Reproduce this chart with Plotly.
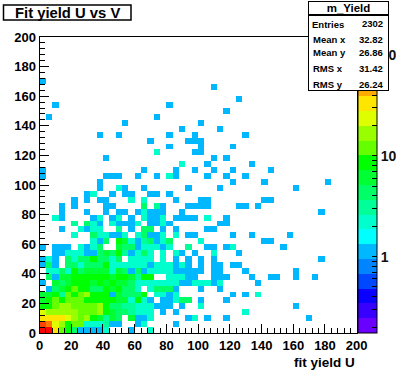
import math
import plotly.graph_objects as go

title_text = "Fit yield U vs V"
x_label = "fit yield U"
stats_name = "m_Yield"
stats_labels = ["Entries", "Mean x", "Mean y", "RMS x", "RMS y"]
stats_values = ["2302", "32.82", "26.86", "31.42", "26.24"]
axis_ticks = [0, 20, 40, 60, 80, 100, 120, 140, 160, 180, 200]
n_bins = 50
bin_width = 4
log_min = -0.758
log_max = 2.18
palette = ["#6a00ff", "#3800ff", "#0a00ff", "#0048ff", "#0084ff", "#00b8ff", "#00ffff", "#00ffcc",
           "#00ff99", "#00ff66", "#00ff33", "#00ff00", "#66ff00", "#99ff00", "#ddff00", "#ffe600",
           "#ffaa00", "#ff7700", "#ff4400", "#ff0000"]

# row index (V bin) -> {U bin: entries}
counts_by_row = {
 0: {0:140,1:140,2:30,3:12,4:8,5:4,6:1,7:1,8:1,9:1,10:2,14:1,17:2},
 1: {0:90,1:60,2:22,3:16,4:8,5:11,6:11,7:2,8:2,9:2,10:3,11:1,12:1,15:1,16:2,21:1},
 2: {0:30,1:30,2:30,3:30,4:22,5:16,6:11,7:16,8:8,9:6,10:3,11:6,12:4,14:6,15:1,16:1,17:2,23:1,24:2,26:1,29:1,42:1},
 3: {0:22,1:16,2:16,3:16,4:16,5:16,6:11,7:11,8:11,9:16,10:8,11:6,12:4,13:4,14:3,15:2,16:2,17:2,19:1,21:1,32:2},
 4: {0:8,1:8,2:11,3:16,4:16,5:11,6:11,7:11,8:11,9:16,10:8,11:4,12:4,13:3,14:3,15:2,16:2,17:2,18:1,19:1,20:1,22:1,25:2,40:1},
 5: {0:6,1:8,2:11,3:8,4:11,5:11,6:11,7:8,8:8,9:8,10:8,11:8,12:6,13:6,14:2,15:8,16:2,17:1,19:1,20:1,21:2,22:4,23:4,25:1,29:1},
 6: {0:6,1:6,2:8,3:3,4:11,5:8,6:11,7:16,8:8,9:8,10:8,11:1,12:6,13:4,14:4,15:4,16:8,18:2,19:2,20:1,21:2,30:1,32:1,34:2},
 7: {1:1,2:4,3:6,4:8,5:11,6:8,7:8,8:4,9:4,10:8,11:6,12:8,13:4,14:4,15:2,17:2,18:4,19:4,20:4,21:1,25:1,28:1},
 8: {0:1,2:6,3:4,4:6,5:8,6:8,7:8,8:6,9:8,10:6,11:8,12:6,13:6,14:4,15:2,16:2,17:2,18:2,19:2,20:2,21:2,22:1,23:1,24:2,25:2,26:2,27:1,28:2,34:1},
 9: {1:4,2:1,3:6,4:6,5:8,6:8,7:8,8:8,9:8,10:8,11:6,12:8,13:8,14:6,15:3,16:8,17:8,20:2,21:2,22:2,23:1,24:1,27:1,28:1,29:1,33:1,36:1,37:1,40:1,43:1},
 10: {1:2,2:2,3:4,4:2,5:8,6:4,7:6,8:6,9:6,10:6,11:2,12:6,13:4,14:1,15:4,16:1,17:2,18:2,19:2,20:2,21:1,22:1,23:1,24:1,25:1,27:1,28:1,32:1,40:1},
 11: {0:1,1:4,2:1,4:4,5:4,6:2,7:4,8:4,9:4,10:8,11:2,12:2,13:2,14:2,15:2,16:2,17:1,18:2,19:2,20:2,21:1,22:2,23:1,25:1,27:1,28:1,30:1,31:1},
 12: {0:1,1:2,2:1,4:4,5:2,6:4,7:4,8:8,9:4,10:4,11:2,12:4,14:2,15:2,16:2,17:2,19:2,21:1,23:1,25:1,27:1,44:1},
 13: {2:1,3:1,4:2,5:2,6:2,7:1,8:1,9:4,10:6,11:4,12:8,13:3,14:1,15:2,16:4,17:2,19:2,21:2,22:1,24:1,27:2,31:1},
 14: {0:1,2:1,3:1,4:1,6:2,7:1,8:2,9:4,12:6,13:4,14:4,15:1,16:2,17:2,18:2,19:1,20:2,23:3,26:1,27:1,29:1,30:2,38:1},
 15: {8:2,9:1,10:4,12:8,13:6,14:2,15:1,16:3,17:4,18:1,19:2,20:4,25:2,35:1,36:1},
 16: {5:2,8:4,9:2,10:2,11:1,12:1,13:2,15:2,16:4,17:1,18:1,19:2,21:2,23:1,24:1,30:1,33:1,39:1},
 17: {3:1,6:2,7:1,8:2,9:2,12:3,14:1,16:4,17:4,19:1,21:1,26:1,27:1},
 18: {5:3,7:4,8:2,9:1,11:2,12:1,13:1,14:1,15:2,17:1,18:1,19:2,20:1,28:1,29:1},
 19: {2:2,3:1,8:1,9:2,11:1,12:2,14:1,16:2,17:1,18:1,19:2,21:1,22:1,23:1,24:1,26:2,29:1},
 20: {3:1,7:1,10:1,12:1,13:1,15:1,16:2,17:1,18:1,19:1,22:1,44:1},
 21: {3:1,5:1,10:1,11:1,16:4,18:3,19:1,23:1,24:1,25:1,26:1,31:1,32:1,34:1},
 22: {5:1,7:1,9:1,10:1,14:2,16:2,21:1,25:1,26:1,35:1,36:1},
 23: {7:1,8:2,11:1,13:1,14:1,17:1,18:1,20:1},
 24: {9:1,12:2,13:1,16:1,23:1,28:1,40:1},
 25: {9:1,30:1,35:1,45:1},
 26: {0:1,10:1,11:1,12:1,15:1,18:1,20:2,21:1,26:1,29:1,32:1},
 27: {0:1,16:1,21:1,24:1,27:1,30:1,36:1},
 28: {22:2,26:1,33:1},
 29: {10:1,27:1,29:1},
 30: {18:2,24:1,25:1},
 31: {20:1,25:1,30:1},
 32: {17:1,23:1,24:1,25:1},
 33: {9:1,12:1,20:1,24:1,32:1},
 34: {22:1,28:1},
 35: {13:1,25:1},
 36: {1:1,18:1},
 37: {29:1},
 38: {2:1,20:1},
 39: {31:1},
 41: {27:1},
 42: {0:1},
}

W, H = 396, 372
L, R, T, B = 39.5, 356.7, 37, 333
FONT = "Liberation Sans"

z = [[None] * n_bins for _ in range(n_bins)]
for row, cells in counts_by_row.items():
    for col, c in cells.items():
        z[row][col] = math.log10(c)

n = len(palette)
scale = []
for k, col in enumerate(palette):
    scale += [[k / n, col], [(k + 1) / n, col]]

cb_vals, cb_text = [], []
for dec in (-1, 0, 1):
    for m in range(1, 10):
        v = dec + math.log10(m)
        if log_min <= v <= log_max:
            cb_vals.append(v)
            cb_text.append({(0, 1): "1", (1, 1): "10"}.get((dec, m), ""))
cb_vals.append(2.0)
cb_text.append("10<sup>2</sup>")

fig = go.Figure(go.Heatmap(
    z=z, x0=bin_width / 2, dx=bin_width, y0=bin_width / 2, dy=bin_width,
    zmin=log_min, zmax=log_max, colorscale=scale, hoverongaps=False,
    colorbar=dict(
        x=357.5 / W, xanchor="left", xref="paper",
        y=(H - B) / H, yanchor="bottom", yref="paper",
        len=(B - T) / H, lenmode="fraction", thickness=18.5, xpad=0, ypad=0,
        outlinecolor="black", outlinewidth=1, borderwidth=0,
        ticks="inside", ticklen=5, tickcolor="black", tickwidth=1,
        tickmode="array", tickvals=cb_vals, ticktext=cb_text,
        tickfont=dict(family=FONT, size=14, color="#111", weight="bold"),
    ),
))


def px(x):
    return x / W


def py(y):
    return 1 - y / H


axis = dict(
    range=[0, 200], tickmode="array", tickvals=axis_ticks, ticks="inside", ticklen=9, tickwidth=1,
    tickcolor="black", showline=True, linecolor="black", linewidth=1, mirror=True,
    showgrid=False, zeroline=False,
    tickfont=dict(family=FONT, size=13, color="black", weight="bold"),
    minor=dict(dtick=4, ticks="inside", ticklen=5, tickwidth=1, tickcolor="black", showgrid=False),
)
fig.update_layout(
    width=W, height=H, margin=dict(l=0, r=0, t=0, b=0, autoexpand=False),
    paper_bgcolor="white", plot_bgcolor="white", showlegend=False,
    xaxis=dict(axis, domain=[px(L), px(R)]),
    yaxis=dict(axis, domain=[py(B), py(T)]),
    title=dict(text=title_text, x=px(15), xanchor="left", xref="paper", y=py(12.5), yanchor="middle",
               yref="paper", font=dict(family=FONT, size=14.8, color="black", weight="bold")),
)
fig.add_shape(type="rect", xref="paper", yref="paper", x0=px(3.5), x1=px(131), y0=py(20), y1=py(5),
              line=dict(color="black", width=1.5), fillcolor="rgba(0,0,0,0)")


def box(x0, y0, x1, y1, text, size, align, pad):
    # Opaque stat-box panel: an annotation, because it must sit above the colour bar.
    fig.add_annotation(xref="paper", yref="paper", x=px(x0), y=py(y0), xanchor="left", yanchor="top",
                       width=x1 - x0 - 2 * pad - 2, height=y1 - y0 - 2 * pad - 2, text=text, showarrow=False,
                       align=align, valign="top", bgcolor="white", bordercolor="black", borderwidth=1,
                       borderpad=pad, font=dict(family=FONT, size=size, color="black", weight="bold"))


def label(x, y, text, anchor, size=10):
    fig.add_annotation(xref="paper", yref="paper", x=px(x), y=py(y), xanchor=anchor, yanchor="middle",
                       text=text, showarrow=False, borderpad=0,
                       font=dict(family=FONT, size=size, color="black", weight="bold"))


box(308, 1, 389, 15, stats_name, 11.5, "center", 0)
box(308, 15, 389, 91, stats_labels[0], 9.5, "left", 3)
for yy, a, b in zip([24, 39, 53, 68, 84], stats_labels, stats_values):
    if a != stats_labels[0]:
        label(312, yy, a, "left", 9.5)
    label(384, yy, b, "right", 9.5)
label(356, 362, x_label, "right", 13.5)

fig.write_html("out.html", config={"displayModeBar": False},
               post_script="document.body.style.margin='0';document.documentElement.style.overflow='hidden';")
